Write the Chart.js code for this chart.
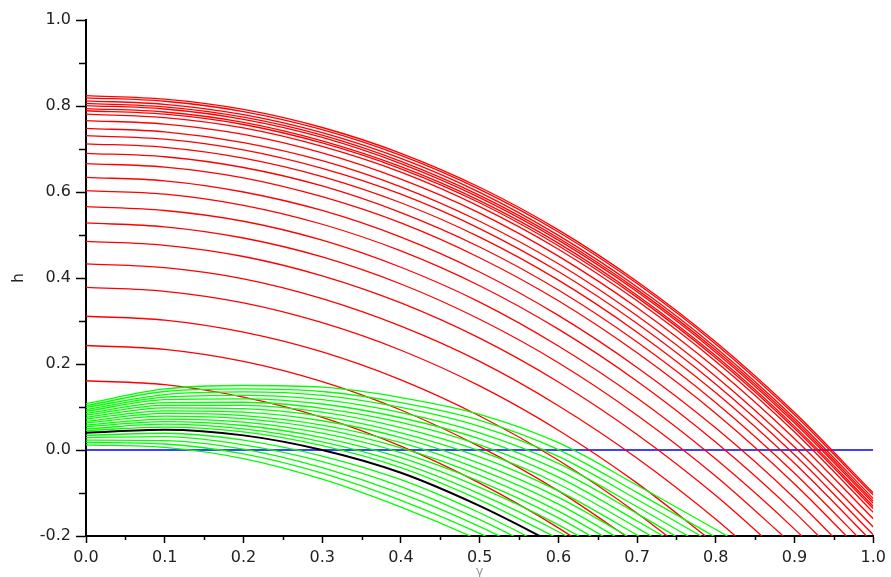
<!DOCTYPE html>
<html>
<head>
<meta charset="utf-8">
<script src="https://cdn.jsdelivr.net/npm/chart.js@4.4.0/dist/chart.umd.min.js"></script>
<style>
  html, body { margin: 0; padding: 0; background: #fff; }
  #wrap { width: 891px; height: 577px; }
</style>
</head>
<body>
<div id="wrap"><canvas id="chart" width="891" height="577"></canvas></div>
<script>
const gammaGrid = [0, 0.1, 0.2, 0.3, 0.4, 0.5, 0.6, 0.7, 0.8, 0.9, 1.0];

// red family, top to bottom (h at each gamma in gammaGrid)
const redCurves = [
  [0.824, 0.816, 0.792, 0.750, 0.690, 0.611, 0.512, 0.392, 0.251, 0.087, -0.100],
  [0.819, 0.811, 0.787, 0.745, 0.685, 0.606, 0.507, 0.387, 0.246, 0.082, -0.105],
  [0.812, 0.804, 0.780, 0.738, 0.678, 0.599, 0.499, 0.379, 0.238, 0.074, -0.113],
  [0.806, 0.798, 0.774, 0.732, 0.671, 0.592, 0.493, 0.373, 0.232, 0.068, -0.119],
  [0.801, 0.793, 0.769, 0.727, 0.666, 0.587, 0.488, 0.368, 0.227, 0.063, -0.124],
  [0.794, 0.786, 0.762, 0.719, 0.659, 0.580, 0.481, 0.360, 0.219, 0.055, -0.131],
  [0.789, 0.781, 0.757, 0.714, 0.654, 0.575, 0.475, 0.355, 0.214, 0.050, -0.136],
  [0.781, 0.773, 0.749, 0.706, 0.646, 0.566, 0.467, 0.347, 0.206, 0.042, -0.145],
  [0.766, 0.758, 0.734, 0.691, 0.630, 0.551, 0.451, 0.331, 0.190, 0.026, -0.160],
  [0.748, 0.740, 0.715, 0.673, 0.612, 0.532, 0.433, 0.312, 0.171, 0.007, -0.179],
  [0.731, 0.723, 0.698, 0.655, 0.595, 0.515, 0.415, 0.294, 0.153, -0.011, -0.197],
  [0.712, 0.704, 0.679, 0.636, 0.575, 0.495, 0.395, 0.274, 0.133, -0.031, -0.216],
  [0.690, 0.682, 0.657, 0.614, 0.552, 0.472, 0.372, 0.251, 0.110, -0.054, -0.239],
  [0.666, 0.658, 0.633, 0.589, 0.528, 0.447, 0.347, 0.226, 0.085, -0.079, -0.264],
  [0.634, 0.626, 0.600, 0.557, 0.495, 0.414, 0.313, 0.192, 0.051, -0.112, -0.298],
  [0.603, 0.595, 0.569, 0.525, 0.463, 0.382, 0.281, 0.160, 0.018, -0.145, -0.330],
  [0.566, 0.557, 0.532, 0.488, 0.425, 0.344, 0.242, 0.121, -0.021, -0.184, -0.368],
  [0.528, 0.519, 0.493, 0.449, 0.386, 0.304, 0.203, 0.081, -0.061, -0.224],
  [0.485, 0.476, 0.450, 0.405, 0.342, 0.260, 0.158, 0.036, -0.106, -0.269],
  [0.433, 0.424, 0.398, 0.352, 0.288, 0.206, 0.103, -0.019, -0.161, -0.323],
  [0.378, 0.369, 0.342, 0.296, 0.232, 0.149, 0.046, -0.077, -0.219],
  [0.311, 0.302, 0.274, 0.228, 0.163, 0.079, -0.024, -0.147, -0.289],
  [0.243, 0.234, 0.206, 0.159, 0.093, 0.008, -0.095, -0.218],
  [0.161, 0.152, 0.123, 0.076, 0.009, -0.077, -0.181, -0.305]
];

// green family, top to bottom
const greenCurves = [
  [0.108, 0.142, 0.150, 0.146, 0.122, 0.083, 0.017, -0.082, -0.185, -0.290],
  [0.103, 0.136, 0.142, 0.136, 0.110, 0.069, 0.001, -0.099, -0.203],
  [0.099, 0.129, 0.135, 0.127, 0.099, 0.055, -0.015, -0.115, -0.220],
  [0.094, 0.123, 0.127, 0.117, 0.087, 0.040, -0.031, -0.132, -0.238],
  [0.090, 0.117, 0.119, 0.107, 0.075, 0.026, -0.047, -0.148, -0.256],
  [0.085, 0.110, 0.111, 0.097, 0.064, 0.012, -0.063, -0.165, -0.273],
  [0.081, 0.104, 0.104, 0.088, 0.052, -0.002, -0.079, -0.181, -0.291],
  [0.076, 0.098, 0.096, 0.078, 0.040, -0.016, -0.095, -0.198, -0.309],
  [0.072, 0.091, 0.088, 0.068, 0.029, -0.031, -0.110, -0.214, -0.326],
  [0.067, 0.085, 0.080, 0.058, 0.017, -0.045, -0.126, -0.231],
  [0.063, 0.079, 0.073, 0.049, 0.005, -0.059, -0.142, -0.247],
  [0.058, 0.072, 0.065, 0.039, -0.006, -0.073, -0.158, -0.264],
  [0.054, 0.066, 0.057, 0.029, -0.018, -0.087, -0.174, -0.280],
  [0.049, 0.060, 0.049, 0.019, -0.030, -0.102, -0.190, -0.297],
  [0.045, 0.053, 0.042, 0.010, -0.041, -0.116, -0.206],
  [0.034, 0.039, 0.023, -0.014, -0.069, -0.146, -0.238],
  [0.029, 0.031, 0.012, -0.027, -0.085, -0.162, -0.253],
  [0.023, 0.022, 0.002, -0.041, -0.101, -0.178, -0.269],
  [0.018, 0.014, -0.009, -0.054, -0.117, -0.194, -0.284],
  [0.012, 0.006, -0.020, -0.068, -0.133, -0.210, -0.300]
];

const blackCurve = [0.040, 0.047, 0.034, 0.000, -0.053, -0.130, -0.222];

const zeroLineX = [0, 1];
const zeroLineY = [0, 0];

const xMinorTicks = [0.05, 0.15, 0.25, 0.35, 0.45, 0.55, 0.65, 0.75, 0.85, 0.95];
const yMinorTicks = [-0.1, 0.1, 0.3, 0.5, 0.7, 0.9];

const FONT = "'DejaVu Sans', sans-serif";

function toPoints(values) {
  return values.map((v, i) => ({ x: gammaGrid[i], y: v }));
}

function curve(values, color, width, order) {
  return {
    data: toPoints(values),
    borderColor: color,
    borderWidth: width,
    pointRadius: 0,
    fill: false,
    cubicInterpolationMode: 'monotone',
    order: order,
  };
}

// order: black on top, then green, then red, blue baseline underneath
const datasets = [];
datasets.push(curve(blackCurve, '#000000', 2, 0));
greenCurves.forEach(c => datasets.push(curve(c, '#00ff00', 1.3, 1)));
redCurves.forEach(c => datasets.push(curve(c, '#ff0000', 1.3, 2)));
datasets.push({
  data: zeroLineX.map((x, i) => ({ x, y: zeroLineY[i] })),
  borderColor: '#0000ff',
  borderWidth: 1.6,
  pointRadius: 0,
  order: 3,
});

// Scilab-style minor ticks on the two axes
const minorTicks = {
  id: 'minorTicks',
  afterDraw(chart) {
    const { ctx, scales: { x, y } } = chart;
    ctx.save();
    ctx.strokeStyle = '#000';
    ctx.lineWidth = 1.5;
    ctx.beginPath();
    yMinorTicks.forEach(v => {
      const py = Math.round(y.getPixelForValue(v)) + 0.5;
      ctx.moveTo(x.left - 7, py);
      ctx.lineTo(x.left, py);
    });
    xMinorTicks.forEach(v => {
      const px = Math.round(x.getPixelForValue(v)) + 0.5;
      ctx.moveTo(px, y.bottom);
      ctx.lineTo(px, y.bottom + 4);
    });
    ctx.stroke();
    ctx.restore();
  }
};

const fmt = v => (Math.abs(v) < 1e-9 ? '0.0' : Number(v).toFixed(1));

new Chart(document.getElementById('chart'), {
  type: 'line',
  data: { datasets },
  options: {
    responsive: false,
    animation: false,
    events: [],
    layout: { padding: { top: 20, right: 17, left: 0, bottom: 0 } },
    plugins: { legend: { display: false }, tooltip: { enabled: false } },
    scales: {
      x: {
        type: 'linear',
        min: 0,
        max: 1,
        afterFit(scale) { scale.height = 41; },
        border: { display: true, color: '#000', width: 2 },
        grid: { drawOnChartArea: false, drawTicks: true, tickLength: 7, tickColor: '#000', tickWidth: 1.5 },
        ticks: {
          stepSize: 0.1,
          padding: 5,
          color: '#222',
          font: { family: FONT, size: 16 },
          maxRotation: 0,
          callback: fmt,
        },
        title: {
          display: true,
          text: 'γ',
          color: '#999',
          font: { family: FONT, size: 13, lineHeight: 0.8 },
          padding: 0,
        },
      },
      y: {
        type: 'linear',
        min: -0.2,
        max: 1.0,
        afterFit(scale) { scale.width = 86; },
        border: { display: true, color: '#000', width: 2 },
        grid: { drawOnChartArea: false, drawTicks: true, tickLength: 10, tickColor: '#000', tickWidth: 1.5 },
        ticks: {
          stepSize: 0.2,
          padding: 5,
          color: '#222',
          font: { family: FONT, size: 16 },
          callback: fmt,
        },
        title: {
          display: true,
          text: 'h',
          color: '#222',
          font: { family: FONT, size: 15 },
          padding: { top: 10, bottom: 0 },
        },
      },
    },
  },
  plugins: [minorTicks],
});
</script>
</body>
</html>
